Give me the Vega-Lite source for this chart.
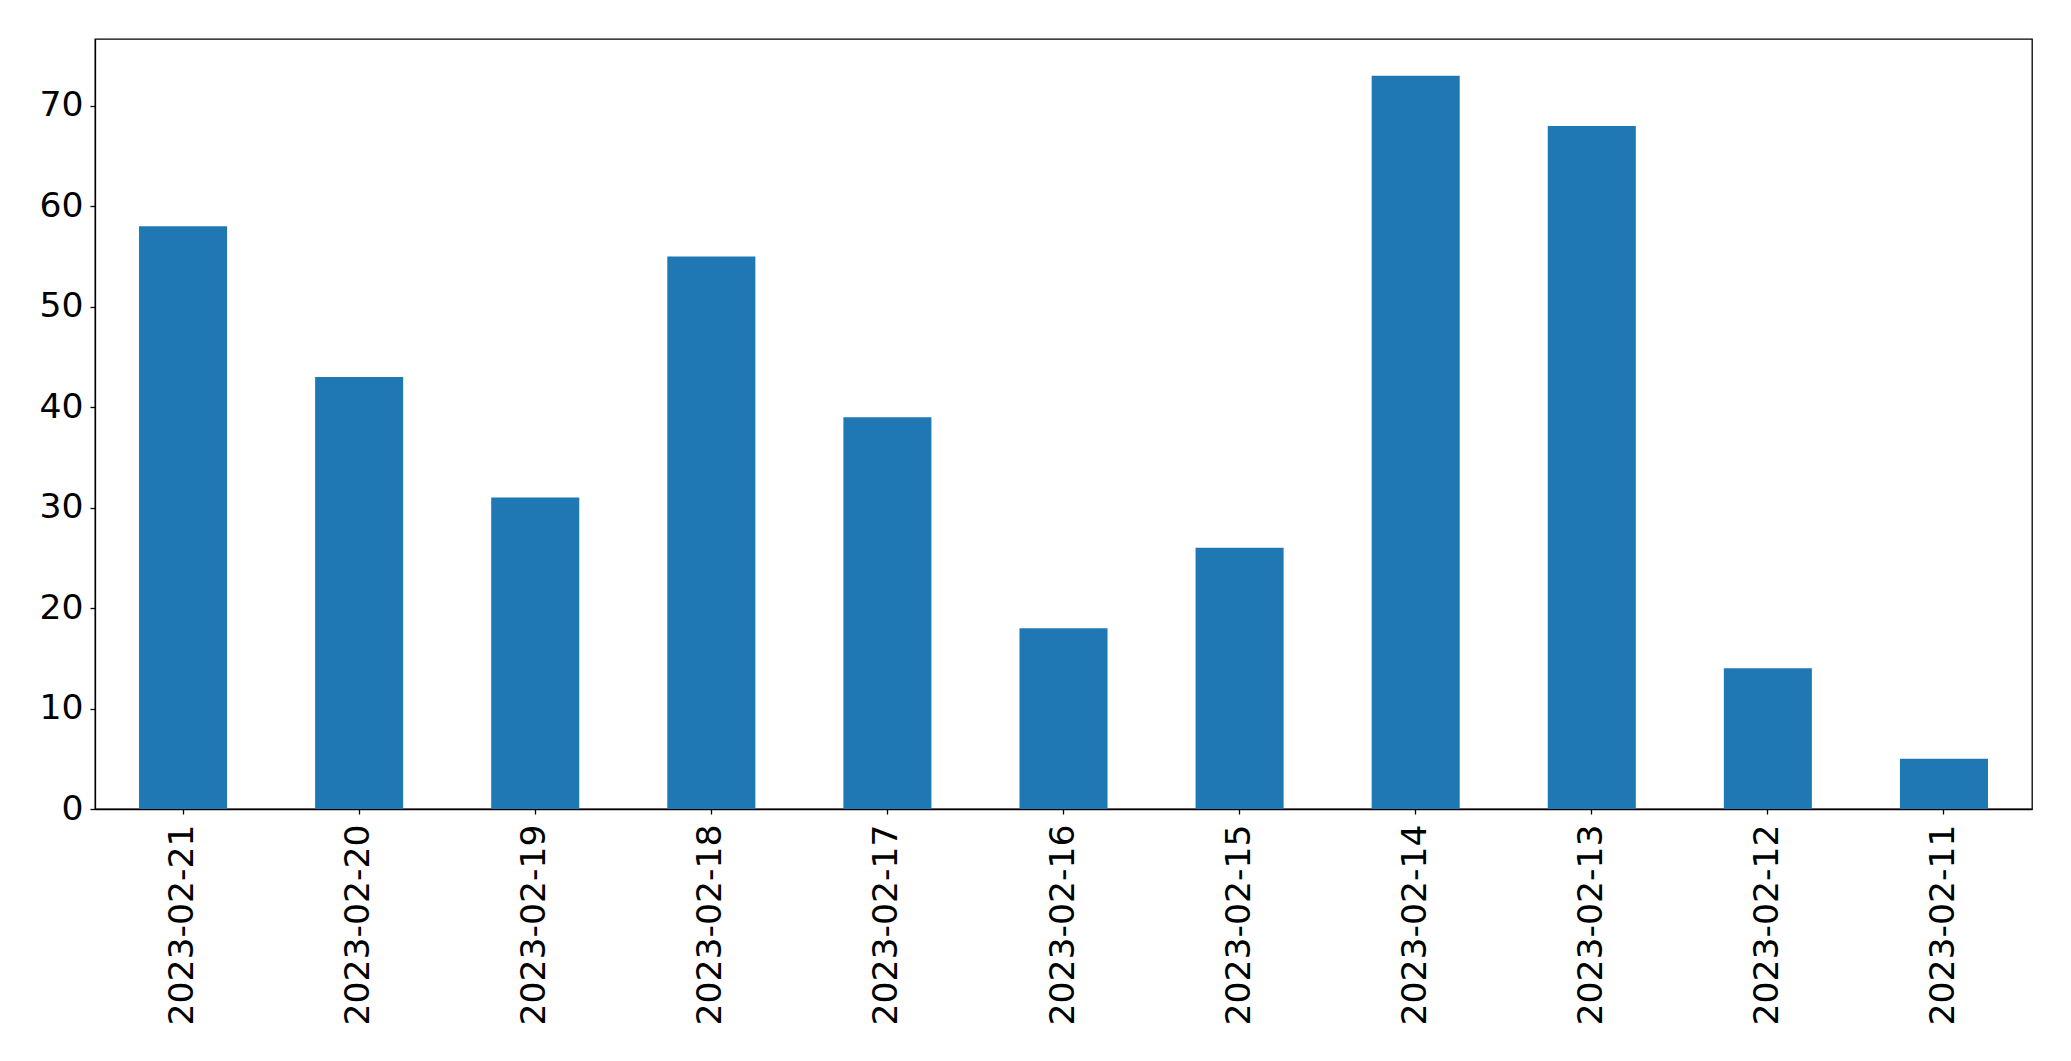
{
  "$schema": "https://vega.github.io/schema/vega-lite/v6.json",
  "width": 1937,
  "height": 770,
  "autosize": "none",
  "padding": {"left": 95, "top": 39, "right": 39, "bottom": 252},
  "background": "white",
  "config": {
    "view": {"stroke": "black", "strokeWidth": 1.3},
    "axis": {
      "labelFont": "DejaVu Sans",
      "labelFontSize": 34.6,
      "labelColor": "black",
      "labelLimit": 0,
      "domainColor": "black",
      "domainWidth": 1.3,
      "tickColor": "black",
      "tickWidth": 1.3,
      "tickSize": 5,
      "grid": false,
      "title": null
    }
  },
  "data": {
    "values": [
      {"date": "2023-02-21", "count": 58},
      {"date": "2023-02-20", "count": 43},
      {"date": "2023-02-19", "count": 31},
      {"date": "2023-02-18", "count": 55},
      {"date": "2023-02-17", "count": 39},
      {"date": "2023-02-16", "count": 18},
      {"date": "2023-02-15", "count": 26},
      {"date": "2023-02-14", "count": 73},
      {"date": "2023-02-13", "count": 68},
      {"date": "2023-02-12", "count": 14},
      {"date": "2023-02-11", "count": 5}
    ]
  },
  "mark": {"type": "bar", "color": "#1f77b4"},
  "encoding": {
    "x": {
      "field": "date",
      "type": "nominal",
      "sort": null,
      "scale": {"paddingInner": 0.5, "paddingOuter": 0.25},
      "axis": {"labelAngle": -90, "labelAlign": "right", "labelBaseline": "middle", "labelPadding": 10}
    },
    "y": {
      "field": "count",
      "type": "quantitative",
      "scale": {"domain": [0, 76.65], "nice": false, "zero": true},
      "axis": {"values": [0, 10, 20, 30, 40, 50, 60, 70], "labelPadding": 7}
    }
  }
}
